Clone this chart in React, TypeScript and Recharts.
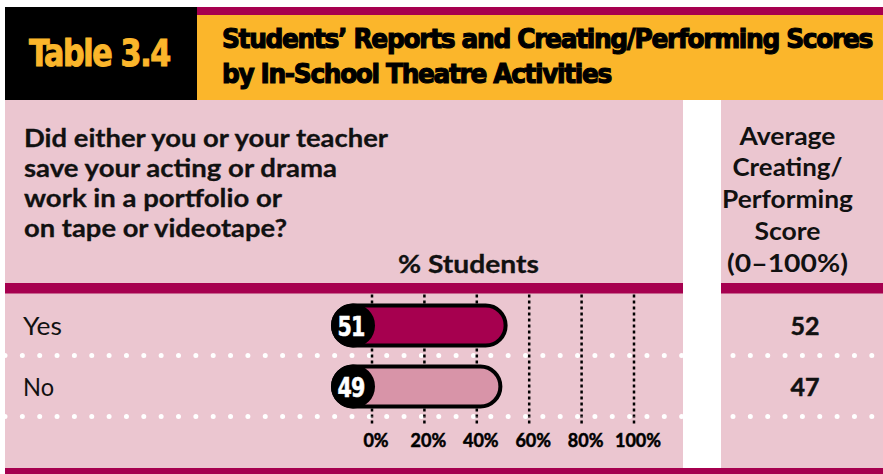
import React from 'react';
import { BarChart, Bar, XAxis, YAxis, CartesianGrid, Cell } from 'recharts';

// ---- data ----
const categories = ['Yes', 'No'];
const studentPercents = [51, 49];
const averageScores = [52, 47];
const xTicks = [0, 20, 40, 60, 80, 100];
const tableLabel = 'Table 3.4';
const titleLines = ["Students\u2019 Reports and Creating/Performing Scores", 'by In-School Theatre Activities'];
const questionLines = ['Did either you or your teacher', 'save your acting or drama', 'work in a portfolio or', 'on tape or videotape?'];
const axisTitle = '% Students';
const scoreHeaderLines = ['Average', 'Creating/', 'Performing', 'Score', '(0\u2013100%)'];

// ---- styles ----
const barColors = ['#A6004F', '#D894A8'];
const PINK = '#EBC6D0';
const MAGENTA = '#A6004F';
const ORANGE = '#FBB62B';
const BODY_FONT = "Lato, 'Open Sans', sans-serif";
const COND_FONT = "'Liberation Sans Narrow', 'DejaVu Sans Condensed', 'DejaVu Sans', sans-serif";

const questionWidths = [364, 313, 258, 263];
const questionBaselines = [147, 177, 207, 237];
const scoreHeaderWidths = [96, 110, 131, 66, 121];
const scoreHeaderBaselines = [145, 176, 208, 240, 272];
const rowBaselines = [335, 396];
const rowLabelWidths = [39, 31];
const titleWidths = [650, 389];
const titleBaselines = [48, 83];

const chartData = categories.map((name, i) => ({ name, value: studentPercents[i] }));

const PillShape = (props: any) => {
  const { x, y, width, height, payload, value } = props;
  const idx = categories.indexOf(payload?.name);
  const fill = barColors[idx >= 0 ? idx : 0];
  const cy = y + height / 2;
  const lead = 39;
  const r = height / 2;
  return (
    <g>
      <rect x={x - lead} y={y} width={width + lead} height={height} rx={r} ry={r} fill={fill} stroke="#000" strokeWidth={4} />
      <circle cx={x - lead + r} cy={cy} r={r + 2} fill="#000" />
      <text x={x - lead + r - 2} y={cy + 10} textAnchor="middle" fill="#fff" stroke="#fff" strokeWidth={0.5} fontFamily={COND_FONT} fontWeight="bold" fontSize={27} letterSpacing={-1} textLength={27} lengthAdjust="spacingAndGlyphs">
        {value}
      </text>
    </g>
  );
};

const Tick = (props: any) => {
  const { x, y, payload } = props;
  return (
    <text x={x + 4} y={y + 21} textAnchor="middle" fill="#000" stroke="#000" strokeWidth={0.5} fontFamily={BODY_FONT} fontWeight="bold" fontSize={18}>
      {`${payload.value}%`}
    </text>
  );
};

const dotted = (x1: number, x2: number, y: number, key: string) => (
  <line key={key} x1={x1} x2={x2} y1={y} y2={y} stroke="#fff" strokeWidth={5} strokeLinecap="round" strokeDasharray="0 17.35" />
);

export default function App() {
  return (
    <div style={{ position: 'absolute', left: 0, top: 0, width: 883, height: 474, background: '#fff', overflow: 'hidden' }}>
      <svg width={883} height={474} style={{ position: 'absolute', left: 0, top: 0 }}>
        {/* header */}
        <rect x={5} y={7} width={192} height={93} fill="#000" />
        <rect x={197} y={7} width={686} height={8} fill={MAGENTA} />
        <rect x={197} y={15} width={686} height={85} fill={ORANGE} />
        <text x={29} y={66} fill={ORANGE} fontFamily={COND_FONT} fontWeight="bold" fontSize={38} letterSpacing={-1.5} textLength={141} lengthAdjust="spacingAndGlyphs" stroke={ORANGE} strokeWidth={1}>
          {tableLabel}
        </text>
        {titleLines.map((t, i) => (
          <text key={t} x={222} y={titleBaselines[i]} fill="#000" fontFamily={COND_FONT} fontWeight="bold" fontSize={27} letterSpacing={-1.3} textLength={titleWidths[i]} lengthAdjust="spacingAndGlyphs" stroke="#000" strokeWidth={1.1}>
            {t}
          </text>
        ))}
        {/* panels */}
        <rect x={5} y={100} width={678} height={368} fill={PINK} />
        <rect x={721} y={100} width={162} height={368} fill={PINK} />
        <rect x={5} y={283} width={678} height={10.5} fill={MAGENTA} />
        <rect x={721} y={283} width={162} height={10.5} fill={MAGENTA} />
        <rect x={5} y={468} width={878} height={6} fill={MAGENTA} />
        {/* question */}
        {questionLines.map((t, i) => (
          <text key={t} x={24} y={questionBaselines[i]} fill="#111" fontFamily={BODY_FONT} fontWeight="bold" fontSize={25} textLength={questionWidths[i]} lengthAdjust="spacingAndGlyphs" stroke="#111" strokeWidth={0.3}>
            {t}
          </text>
        ))}
        <text x={398} y={273} fill="#111" fontFamily={BODY_FONT} fontWeight="bold" fontSize={25} textLength={141} lengthAdjust="spacingAndGlyphs" stroke="#111" strokeWidth={0.3}>
          {axisTitle}
        </text>
        {scoreHeaderLines.map((t, i) => (
          <text key={t} x={787.5} y={scoreHeaderBaselines[i]} textAnchor="middle" fill="#111" fontFamily={BODY_FONT} fontWeight="bold" fontSize={25} textLength={scoreHeaderWidths[i]} lengthAdjust="spacingAndGlyphs">
            {t}
          </text>
        ))}
        {/* row labels and scores */}
        {categories.map((c, i) => (
          <text key={c} x={23} y={rowBaselines[i]} fill="#111" fontFamily={BODY_FONT} fontSize={25} textLength={rowLabelWidths[i]} lengthAdjust="spacingAndGlyphs">
            {c}
          </text>
        ))}
        {averageScores.map((v, i) => (
          <text key={`s${i}`} x={805} y={rowBaselines[i]} textAnchor="middle" fill="#111" stroke="#111" strokeWidth={0.5} fontFamily={BODY_FONT} fontWeight="bold" fontSize={25}>
            {v}
          </text>
        ))}
        {/* separators */}
        {dotted(5, 683, 355.5, 'l1')}
        {dotted(5, 683, 416.5, 'l2')}
        {dotted(733, 883, 355.5, 'r1')}
        {dotted(733, 883, 416.5, 'r2')}
      </svg>
      <div style={{ position: 'absolute', left: 0, top: 0 }}>
        <BarChart
          layout="vertical"
          width={883}
          height={474}
          data={chartData}
          margin={{ top: 294.5, bottom: 27.5, left: 372, right: 249 }}
        >
          <CartesianGrid horizontal={false} vertical stroke="#000" strokeWidth={2.5} strokeDasharray="3 3" />
          <XAxis
            type="number"
            domain={[0, 100]}
            ticks={xTicks}
            interval={0}
            height={30}
            axisLine={false}
            tickLine={{ stroke: '#000', strokeWidth: 2.5, strokeDasharray: '3 3' }}
            tickSize={7}
            tick={<Tick />}
          />
          <YAxis type="category" dataKey="name" hide />
          <Bar dataKey="value" barSize={40} shape={<PillShape />} isAnimationActive={false}>
            {chartData.map((d, i) => (
              <Cell key={d.name} fill={barColors[i]} />
            ))}
          </Bar>
        </BarChart>
      </div>
    </div>
  );
}
